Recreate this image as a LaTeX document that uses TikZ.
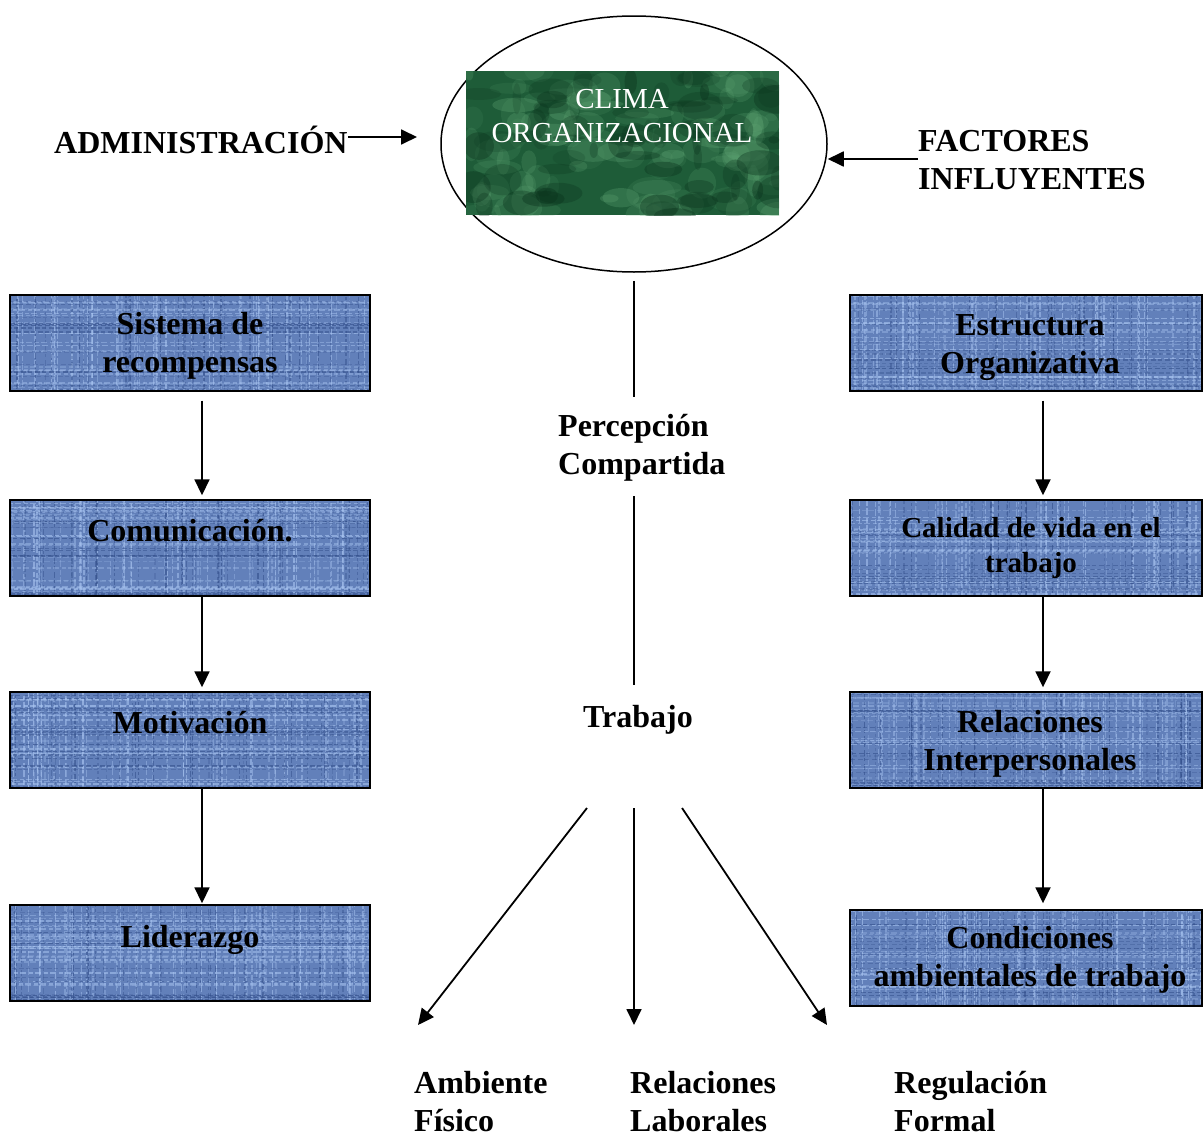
\documentclass[tikz,border=0pt]{standalone}
\usepackage{fontspec}
\setmainfont{Liberation Serif}
\usetikzlibrary{shapes.geometric,arrows.meta}
\definecolor{linenbase}{RGB}{98,128,186}
\definecolor{linenlight}{RGB}{170,198,242}
\definecolor{linendark}{RGB}{48,76,136}
\definecolor{greenbase}{RGB}{30,92,56}
\definecolor{greenlight}{RGB}{100,170,120}
\definecolor{greendark}{RGB}{10,50,28}
\newcommand\linentex{%
    \foreach \k in {1,...,60}{%
      \pgfmathsetmacro\xa{rnd*370-185}%
      \pgfmathsetmacro\op{0.2+0.4*rnd}%
      \pgfmathsetmacro\ph{rnd*12}%
      \draw[linenlight,line width=1.4,opacity=\op,dash pattern=on 5pt off 2pt on 7pt off 3pt,dash phase=\ph] (\xa,-55) -- (\xa,55);
    }
    \foreach \k in {1,...,35}{%
      \pgfmathsetmacro\xa{rnd*370-185}%
      \pgfmathsetmacro\op{0.2+0.4*rnd}%
      \pgfmathsetmacro\ph{rnd*12}%
      \draw[linendark,line width=1.2,opacity=\op,dash pattern=on 3pt off 3pt on 6pt off 2pt,dash phase=\ph] (\xa,-55) -- (\xa,55);
    }
    \foreach \k in {1,...,28}{%
      \pgfmathsetmacro\ya{rnd*110-55}%
      \pgfmathsetmacro\op{0.2+0.4*rnd}%
      \pgfmathsetmacro\ph{rnd*12}%
      \draw[linenlight,line width=1.4,opacity=\op,dash pattern=on 6pt off 3pt on 4pt off 2pt,dash phase=\ph] (-185,\ya) -- (185,\ya);
    }
    \foreach \k in {1,...,18}{%
      \pgfmathsetmacro\ya{rnd*110-55}%
      \pgfmathsetmacro\op{0.2+0.4*rnd}%
      \pgfmathsetmacro\ph{rnd*12}%
      \draw[linendark,line width=1.2,opacity=\op,dash pattern=on 4pt off 3pt on 5pt off 2pt,dash phase=\ph] (-185,\ya) -- (185,\ya);
    }}
\newcommand\marbletex{%
    \foreach \k in {1,...,110}{%
      \pgfmathsetmacro\xa{rnd*320-160}%
      \pgfmathsetmacro\ya{rnd*150-75}%
      \pgfmathsetmacro\ra{4+rnd*22}%
      \pgfmathsetmacro\rb{3+rnd*14}%
      \pgfmathsetmacro\op{0.10+0.2*rnd}%
      \fill[greenlight,opacity=\op] (\xa,\ya) ellipse ({\ra} and {\rb});
    }
    \foreach \k in {1,...,70}{%
      \pgfmathsetmacro\xa{rnd*320-160}%
      \pgfmathsetmacro\ya{rnd*150-75}%
      \pgfmathsetmacro\ra{4+rnd*20}%
      \pgfmathsetmacro\rb{3+rnd*14}%
      \pgfmathsetmacro\op{0.15+0.25*rnd}%
      \fill[greendark,opacity=\op] (\xa,\ya) ellipse ({\ra} and {\rb});
    }}
\begin{document}
\pgfmathsetseed{4217}
\begin{tikzpicture}[x=1pt,y=-1pt,
  big/.style={font=\fontsize{32}{37.5}\selectfont\bfseries, inner sep=0pt},
  smallb/.style={font=\fontsize{29}{35}\selectfont\bfseries, inner sep=0pt},
  lbox/.style={draw, line width=1.4, inner sep=0pt, minimum height=96, fill=linenbase, path picture={\linentex}},
  arr/.style={line width=1.8, -{Triangle[length=16,width=15]}},
  plain/.style={line width=1.8}]
\useasboundingbox (0,0) rectangle (1203,1135);

% central ellipse and green block
\node[draw, ellipse, line width=1.5, inner sep=0pt, minimum width=386, minimum height=256] (ell) at (634,144) {};
\node[inner sep=0pt, minimum width=313, minimum height=144, fill=greenbase, path picture={\marbletex}] (clima) at (622.5,143) {};
\node[font=\fontsize{29}{34}\selectfont, text=white, align=center, anchor=base, inner sep=0pt] (climat) at (622,142) {CLIMA\\ORGANIZACIONAL};

\node[big, anchor=base west] (admin) at (54,153) {ADMINISTRACIÓN};
\node[big, anchor=base west, align=left] (fact) at (918,189) {FACTORES\\INFLUYENTES};
\draw[arr] (admin.east |- 0,137) -- (417,137) coordinate (adminend);
\coordinate (factstart) at (918,159);
\draw[arr] (factstart) -- (ell.east |- factstart);

% left boxes
\node[lbox, minimum width=360] (l1) at (190,343) {};
\node[lbox, minimum width=360] (l2) at (190,548) {};
\node[lbox, minimum width=360] (l3) at (190,740) {};
\node[lbox, minimum width=360] (l4) at (190,953) {};
\node[big, align=center, anchor=base] (l1t) at (190,372) {Sistema de\\recompensas};
\node[big, anchor=base] (l2t) at (190,541) {Comunicación.};
\node[big, anchor=base] (l3t) at (190,733) {Motivación};
\node[big, anchor=base] (l4t) at (190,947) {Liderazgo};

% right boxes
\node[lbox, minimum width=352] (r1) at (1026,343) {};
\node[lbox, minimum width=352] (r2) at (1026,548) {};
\node[lbox, minimum width=352] (r3) at (1026,740) {};
\node[lbox, minimum width=352] (r4) at (1026,958) {};
\node[big, align=center, anchor=base] (r1t) at (1030,373) {Estructura\\Organizativa};
\node[smallb, align=center, anchor=base] (r2t) at (1031,572) {Calidad de vida en el\\trabajo};
\node[big, align=center, anchor=base] (r3t) at (1030,770) {Relaciones\\Interpersonales};
\node[big, align=center, anchor=base] (r4t) at (1030,986) {Condiciones\\ambientales de trabajo};

% vertical arrows
\draw[arr] ([xshift=12pt,yshift=-9pt]l1.south) -- ([xshift=12pt,yshift=4pt]l2.north);
\draw[arr] ([xshift=12pt]l2.south) -- ([xshift=12pt,yshift=4pt]l3.north);
\draw[arr] ([xshift=12pt]l3.south) -- ([xshift=12pt,yshift=1pt]l4.north);
\draw[arr] ([xshift=17pt,yshift=-9pt]r1.south) -- ([xshift=17pt,yshift=4pt]r2.north);
\draw[arr] ([xshift=17pt]r2.south) -- ([xshift=17pt,yshift=4pt]r3.north);
\draw[arr] ([xshift=17pt]r3.south) -- ([xshift=17pt,yshift=6pt]r4.north);

% centre column
\node[big, align=left, anchor=base west] (perc) at (558,474) {Percepción\\Compartida};
\node[big, anchor=base] (trab) at (638,727) {Trabajo};
\draw[plain] ([yshift=-8pt]ell.south) -- (634,397) coordinate (p1);
\draw[plain] (634,496) coordinate (p2) -- (634,685) coordinate (p3);

% bottom labels and arrows
\node[big, align=left, anchor=base west] (amb) at (414,1131) {Ambiente\\Físico};
\node[big, align=left, anchor=base west] (rel) at (630,1131) {Relaciones\\Laborales};
\node[big, align=left, anchor=base west] (reg) at (894,1131) {Regulación\\Formal};
\coordinate (t1) at (587,808);
\coordinate (t2) at (634,808);
\coordinate (t3) at (682,808);
\coordinate (e1) at (418,1025);
\coordinate (e2) at (634,1025);
\coordinate (e3) at (827,1025);
\draw[arr] (t1) -- (e1);
\draw[arr] (t2) -- (e2);
\draw[arr] (t3) -- (e3);
\end{tikzpicture}
\end{document}
